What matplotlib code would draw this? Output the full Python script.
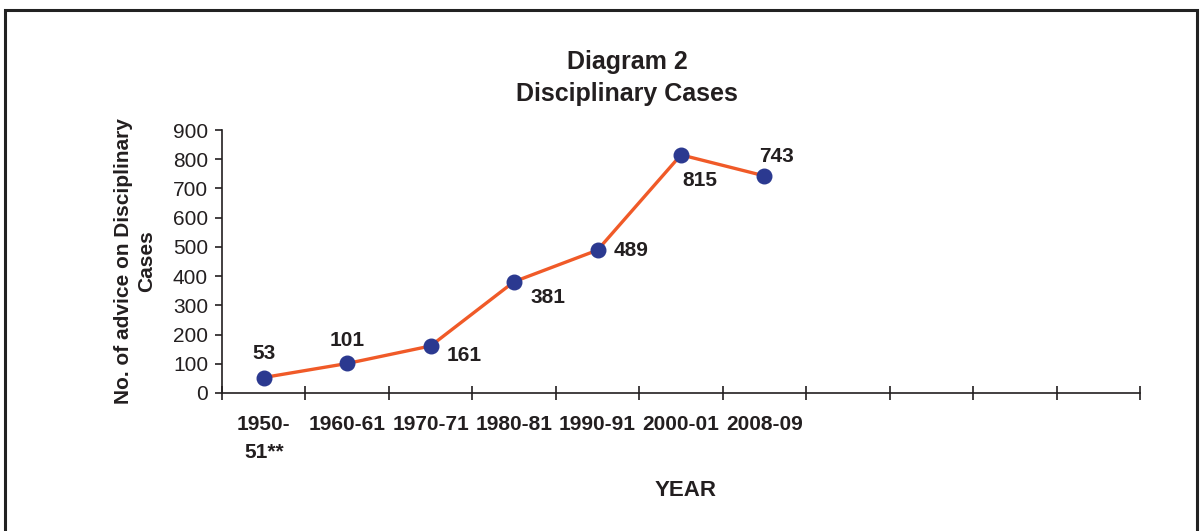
import matplotlib
matplotlib.use("Agg")
import matplotlib.pyplot as plt
from matplotlib.patches import Rectangle

plt.rcParams['font.family'] = ['Liberation Sans', 'DejaVu Sans']

categories = ["1950-\n51**", "1960-61", "1970-71", "1980-81", "1990-91", "2000-01", "2008-09"]
values = [53, 101, 161, 381, 489, 815, 743]
n_slots = 11
label_offsets = [(0, 24), (0, 23), (34, -10), (34, -16), (34, 0), (19, -26), (12, 19)]

fig = plt.figure(figsize=(12.04, 5.31), dpi=100)
ax = fig.add_axes([222/1204, 1-393/531, (1140-222)/1204, (393-130)/531])

# frame around the figure
fig.patches.append(Rectangle((5/1204, -0.05), (1197-5)/1204, 1.05 - 10/531,
                             transform=fig.transFigure, fill=False,
                             edgecolor='#222222', linewidth=2.2, zorder=0))

xs = [i + 0.5 for i in range(len(values))]
ax.plot(xs, values, color='#F05A28', linewidth=2.4, zorder=2)
ax.scatter(xs, values, s=110, color='#2B3990', zorder=3)

for x, v, (dx, dy) in zip(xs, values, label_offsets):
    ax.annotate(str(v), (x, v), xytext=(dx, dy), textcoords='offset pixels',
                ha='center', va='center', fontsize=15, fontweight='bold', color='#231F20')

ax.set_xlim(0, n_slots)
ax.set_ylim(0, 900)
ax.set_yticks(range(0, 901, 100))
ax.tick_params(axis='y', labelsize=15, length=5, width=1.2, colors='#231F20', pad=5)

ax.set_xticks(xs)
ax.set_xticklabels(categories, fontsize=15, fontweight='bold', color='#231F20', linespacing=1.6)
ax.tick_params(axis='x', which='major', length=0, pad=16)
ax.set_xticks(range(0, n_slots + 1), minor=True)
ax.tick_params(axis='x', which='minor', length=10, width=1.2, direction='inout', colors='#231F20')

for s in ['top', 'right']:
    ax.spines[s].set_visible(False)
for s in ['left', 'bottom']:
    ax.spines[s].set_linewidth(1.2)
    ax.spines[s].set_color('#231F20')

ax.set_ylabel("No. of advice on Disciplinary\nCases", fontsize=15, fontweight='bold',
              color='#231F20', labelpad=12, linespacing=1.3)
ax.set_xlabel("YEAR", fontsize=16, fontweight='bold', color='#231F20')
ax.xaxis.set_label_coords(686/1204, 1-491/531, transform=fig.transFigure)
ax.xaxis.label.set_va('center')
fig.text(627/1204, 1-78/531, "Diagram 2\nDisciplinary Cases", ha='center', va='center',
         fontsize=18, fontweight='bold', color='#231F20', linespacing=1.45)

fig.savefig("out.png", dpi=100)
